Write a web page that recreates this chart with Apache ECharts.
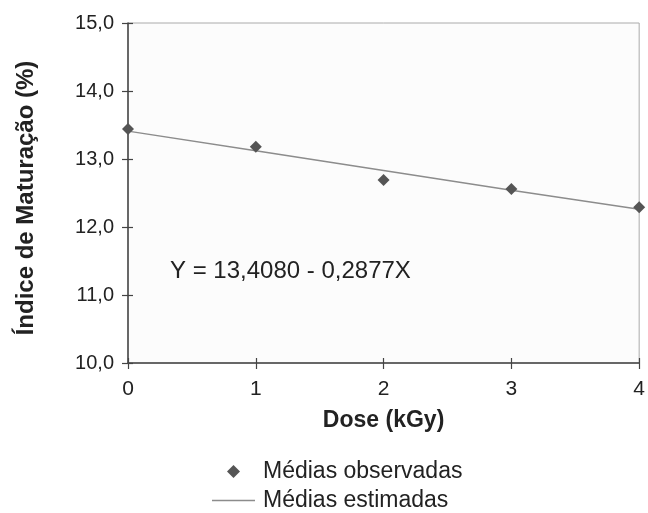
<!DOCTYPE html>
<html><head><meta charset="utf-8">
<script src="https://cdn.jsdelivr.net/npm/echarts@6/dist/echarts.min.js"></script>
<style>html,body{margin:0;padding:0;background:#fff}#c{width:648px;height:513px}</style>
</head><body><div id="c"></div>
<script>
const doses = [0, 1, 2, 3, 4];
const observed = [13.44, 13.18, 12.69, 12.56, 12.29];
const estimated = [13.41, 13.12, 12.83, 12.54, 12.26];
const yTicks = [10, 11, 12, 13, 14, 15];
const equation = 'Y = 13,4080 - 0,2877X';
const xTitle = 'Dose (kGy)';
const yTitle = 'Índice de Maturação (%)';
const nameObs = 'Médias observadas';
const nameEst = 'Médias estimadas';

const FONT = '"Liberation Sans", Arial, sans-serif';
const chart = echarts.init(document.getElementById('c'));
const fmt = v => v.toFixed(1).replace('.', ',');
const axisLine = {show: true, lineStyle: {color: '#444', width: 1.5}};
chart.setOption({
  animation: false,
  textStyle: {fontFamily: FONT},
  grid: {left: 128, top: 23, right: 4, bottom: 150, show: true, borderColor: '#aaa', borderWidth: 1, backgroundColor: '#fcfcfc'},
  xAxis: [{
    type: 'value', min: 0, max: 4, interval: 1,
    axisLine: axisLine,
    axisTick: {show: true, length: 6, lineStyle: {color: '#444', width: 1.2}},
    axisLabel: {fontSize: 21, color: '#222', margin: 16, fontFamily: FONT},
    splitLine: {show: false},
    name: xTitle, nameLocation: 'middle', nameGap: 46,
    nameTextStyle: {fontSize: 23, fontWeight: 'bold', color: '#222', fontFamily: FONT}
  }, {
    type: 'value', min: 0, max: 4, interval: 1, position: 'bottom',
    axisLine: {show: false},
    axisTick: {show: true, inside: true, length: 5, lineStyle: {color: '#444', width: 1.2}},
    axisLabel: {show: false}, splitLine: {show: false}
  }],
  yAxis: [{
    type: 'value', min: yTicks[0], max: yTicks[yTicks.length - 1], interval: 1,
    axisLine: axisLine,
    axisTick: {show: true, length: 6, lineStyle: {color: '#444', width: 1.2}},
    axisLabel: {fontSize: 20, color: '#222', margin: 14, formatter: fmt, fontFamily: FONT},
    splitLine: {show: false},
    name: yTitle, nameLocation: 'middle', nameGap: 90, nameRotate: 90,
    nameTextStyle: {fontSize: 24, fontWeight: 'bold', color: '#222', fontFamily: FONT, padding: [0, 10, 0, 0]}
  }, {
    type: 'value', min: yTicks[0], max: yTicks[yTicks.length - 1], interval: 1, position: 'left',
    axisLine: {show: false},
    axisTick: {show: true, inside: true, length: 5, lineStyle: {color: '#444', width: 1.2}},
    axisLabel: {show: false}, splitLine: {show: false}
  }],
  legend: [{
    data: [{name: nameObs, icon: 'diamond'}], left: 222, top: 455, orient: 'vertical',
    itemWidth: 13, itemHeight: 13, itemGap: 0,
    textStyle: {fontSize: 23, color: '#222', fontFamily: FONT, padding: [0, 0, 0, 18]}
  }, {
    data: [{name: nameEst, icon: 'rect'}], left: 207, top: 484, orient: 'vertical',
    itemWidth: 43, itemHeight: 1.5, itemGap: 0,
    textStyle: {fontSize: 23, color: '#222', fontFamily: FONT, padding: [0, 0, 0, 3]}
  }],
  graphic: [{
    type: 'text', left: 170, top: 259,
    style: {text: equation, fontSize: 24, fill: '#222', fontFamily: FONT}
  }],
  series: [{
    name: nameEst, type: 'line', data: doses.map((d, i) => [d, estimated[i]]),
    showSymbol: false, symbol: 'none',
    lineStyle: {color: '#8c8c8c', width: 1.5}, itemStyle: {color: '#8c8c8c'}, z: 3
  }, {
    name: nameObs, type: 'scatter', data: doses.map((d, i) => [d, observed[i]]),
    symbol: 'diamond', symbolSize: 12,
    itemStyle: {color: '#555', opacity: 1}, z: 4
  }]
});
</script></body></html>
